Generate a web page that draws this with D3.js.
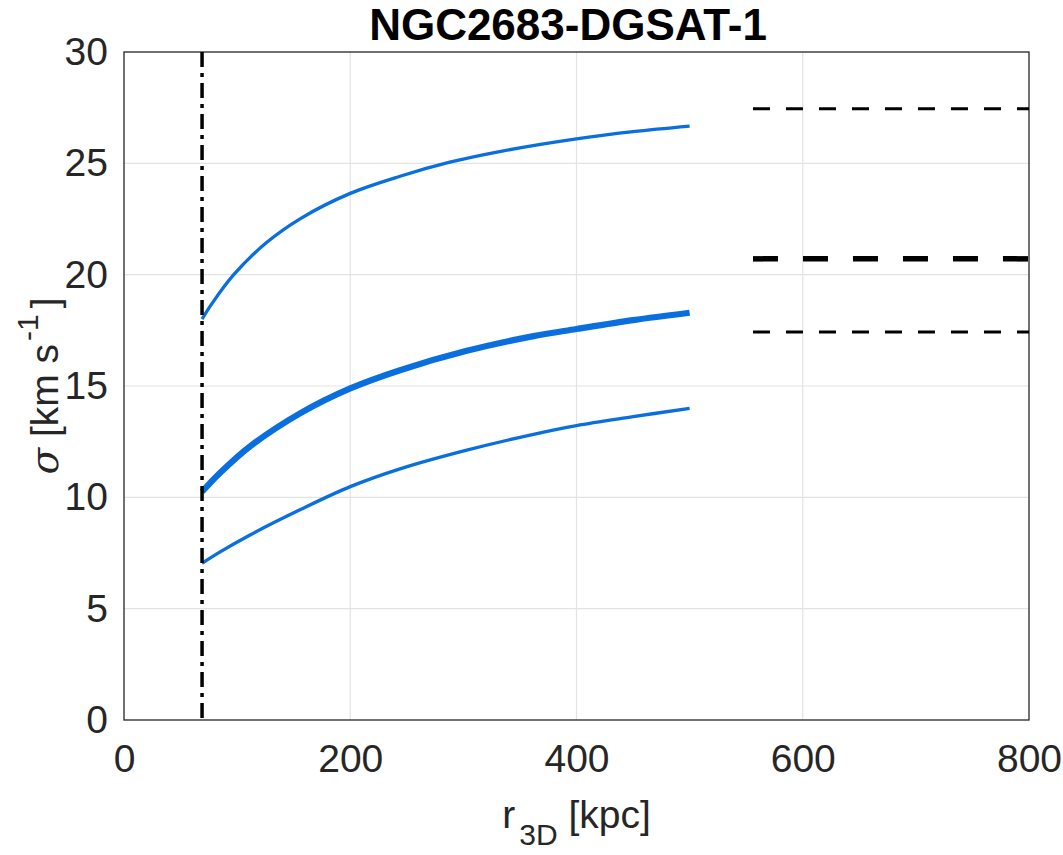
<!DOCTYPE html>
<html>
<head>
<meta charset="utf-8">
<script src="https://cdn.jsdelivr.net/npm/d3@7"></script>
<style>
    body { margin: 0; background: #fff; }
    text { font-family: "Liberation Sans", Arial, sans-serif; }
</style>
</head>
<body>
<div id="chart"></div>
<script>
// data
const title = 'NGC2683-DGSAT-1';
const xTicks = [0, 200, 400, 600, 800];
const yTicks = [0, 5, 10, 15, 20, 25, 30];

const rUpper = [69, 78, 97, 126, 156, 200, 244, 288, 332, 400, 450, 500];
const sigmaUpper = [18.0, 18.72, 20.0, 21.44, 22.52, 23.65, 24.42, 25.05, 25.53, 26.1, 26.42, 26.67];

const rMid = [69, 85, 111, 156, 200, 244, 303, 362, 400, 450, 500];
const sigmaMid = [10.25, 11.1, 12.27, 13.78, 14.89, 15.71, 16.58, 17.24, 17.56, 17.96, 18.29];
const sigmaLow = [7.04, 7.55, 8.3, 9.45, 10.48, 11.28, 12.12, 12.83, 13.22, 13.62, 14.0];

const rLimit = 69;                  // vertical dash-dot line
const obsRange = [556, 800];        // extent of horizontal dashed lines
const obsSigma = [27.45, 20.71, 17.42];

const width = 1063, height = 855;
const margin = {top: 52, right: 34, bottom: 135, left: 124};

const svg = d3.select('#chart').append('svg')
    .attr('width', width)
    .attr('height', height);

const x = d3.scaleLinear().domain([0, 800]).range([margin.left, width - margin.right]);
const y = d3.scaleLinear().domain([0, 30]).range([height - margin.bottom, margin.top]);

const axisColor = '#262626';
const blue = '#0a6fde';

// grid
svg.append('g').selectAll('line.vg')
    .data(xTicks.slice(1, -1))
    .enter().append('line')
    .attr('x1', d => x(d)).attr('x2', d => x(d))
    .attr('y1', y(0)).attr('y2', y(30))
    .attr('stroke', '#e3e3e3').attr('stroke-width', 1.2);

svg.append('g').selectAll('line.hg')
    .data(yTicks.slice(1, -1))
    .enter().append('line')
    .attr('x1', x(0)).attr('x2', x(800))
    .attr('y1', d => y(d)).attr('y2', d => y(d))
    .attr('stroke', '#e3e3e3').attr('stroke-width', 1.2);

// axes with tick labels
const xAxis = svg.append('g')
    .attr('transform', `translate(0,${y(0)})`)
    .call(d3.axisBottom(x).tickValues(xTicks).tickSize(0).tickPadding(24));
const yAxis = svg.append('g')
    .attr('transform', `translate(${x(0)},0)`)
    .call(d3.axisLeft(y).tickValues(yTicks).tickSize(0).tickPadding(16));

[xAxis, yAxis].forEach(a => {
    a.select('.domain').remove();
    a.selectAll('text')
        .attr('font-size', 39)
        .attr('fill', axisColor)
        .style('font-family', '"Liberation Sans", Arial, sans-serif');
});

// box
svg.append('rect')
    .attr('x', x(0)).attr('y', y(30))
    .attr('width', x(800) - x(0)).attr('height', y(0) - y(30))
    .attr('fill', 'none')
    .attr('stroke', axisColor).attr('stroke-width', 1.3);

const line = d3.line()
    .x(d => x(d[0]))
    .y(d => y(d[1]))
    .curve(d3.curveCatmullRom);

const curves = [
    {r: rUpper, s: sigmaUpper, w: 3.3},
    {r: rMid, s: sigmaMid, w: 6.2},
    {r: rMid, s: sigmaLow, w: 3.3}
];

svg.append('g').selectAll('path')
    .data(curves)
    .enter().append('path')
    .attr('d', c => line(c.r.map((r, i) => [r, c.s[i]])))
    .attr('fill', 'none')
    .attr('stroke', blue)
    .attr('stroke-width', c => c.w);

// vertical dash-dot
svg.append('line')
    .attr('x1', x(rLimit)).attr('x2', x(rLimit))
    .attr('y1', y(30)).attr('y2', y(0))
    .attr('stroke', '#000')
    .attr('stroke-width', 3.5)
    .attr('stroke-dasharray', '15,6,4,6');

// horizontal dashed lines
svg.append('g').selectAll('line')
    .data(obsSigma)
    .enter().append('line')
    .attr('x1', x(obsRange[0])).attr('x2', x(obsRange[1]))
    .attr('y1', d => y(d)).attr('y2', d => y(d))
    .attr('stroke', '#000')
    .attr('stroke-width', (d, i) => i === 1 ? 5.5 : 3)
    .attr('stroke-dasharray', (d, i) => i === 1 ? '25,25' : '17,16');

// title
svg.append('text')
    .attr('x', 568).attr('y', 40)
    .attr('text-anchor', 'middle')
    .attr('font-size', 44)
    .attr('font-weight', 'bold')
    .attr('fill', '#000')
    .text(title);

// x label
const xl = svg.append('text')
    .attr('x', (x(0) + x(800)) / 2).attr('y', 828)
    .attr('text-anchor', 'middle')
    .attr('font-size', 39)
    .attr('fill', axisColor);
xl.append('tspan').text('r');
xl.append('tspan').attr('font-size', 30).attr('dx', 4).attr('dy', 17).text('3D');
xl.append('tspan').attr('dy', -17).text(' [kpc]');

// y label
const yl = svg.append('text')
    .attr('transform', `translate(58,${(y(0) + y(30)) / 2}) rotate(-90)`)
    .attr('text-anchor', 'middle')
    .attr('font-size', 39)
    .attr('fill', axisColor);
yl.append('tspan').attr('font-family', '"DejaVu Serif", serif').attr('font-style', 'italic').text('σ');
yl.append('tspan').text(' [km s');
yl.append('tspan').attr('font-size', 30).attr('dx', 3).attr('dy', -20).text('-1');
yl.append('tspan').attr('dx', 6).attr('dy', 20).text(']');
</script>
</body>
</html>
